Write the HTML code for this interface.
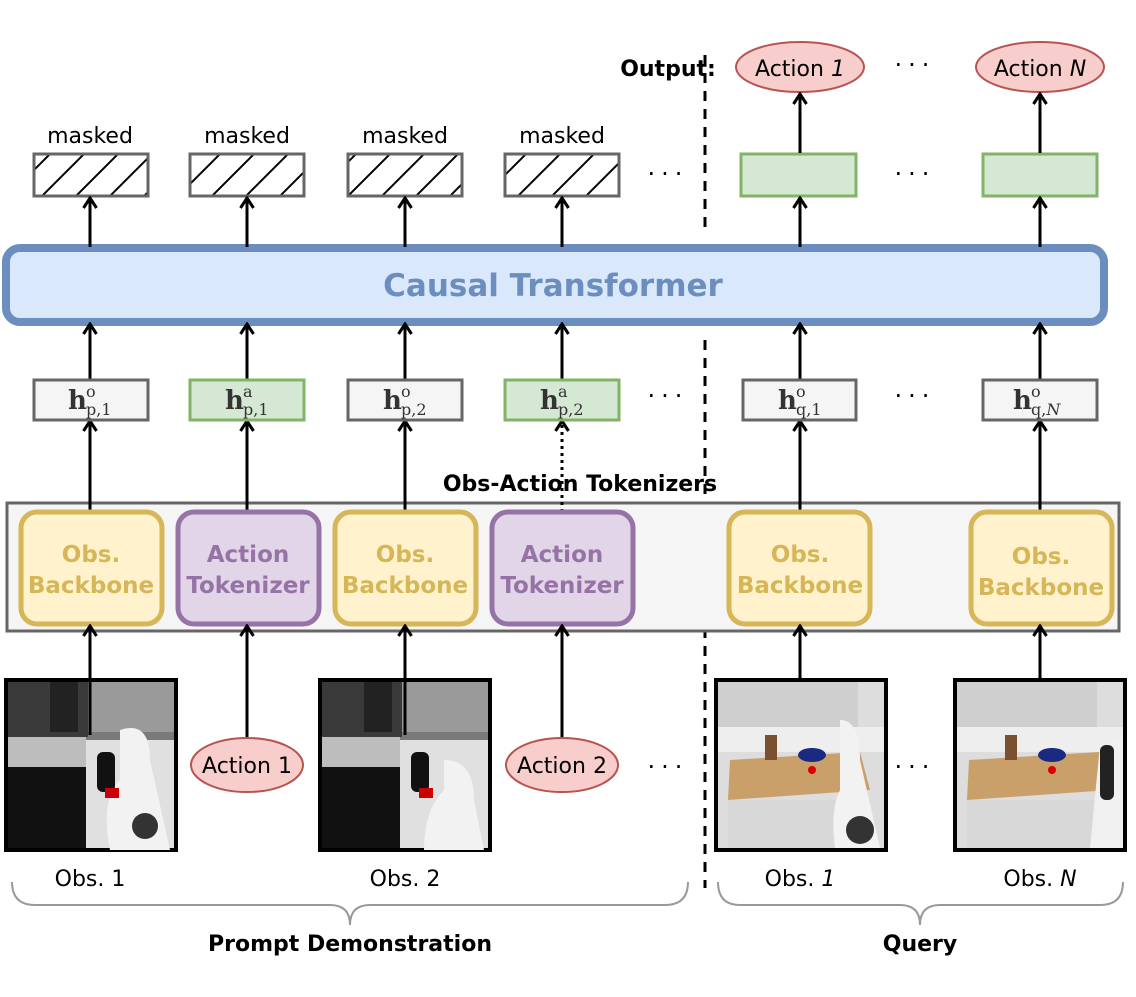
<!DOCTYPE html>
<html><head><meta charset="utf-8"><style>
html,body{margin:0;padding:0;background:#fff;}
svg{display:block;}
text{font-family:"DejaVu Sans","Liberation Sans",sans-serif;}
.m text{font-family:"DejaVu Serif","Liberation Serif",serif;}
</style></head><body>
<svg width="1136" height="997" viewBox="0 0 1136 997" xmlns="http://www.w3.org/2000/svg">
<defs>
<marker id="ar" viewBox="0 0 14 16" refX="12" refY="8" markerWidth="14" markerHeight="16" markerUnits="userSpaceOnUse" orient="auto">
<path d="M2,1.5 L12,8 L2,14.5" fill="none" stroke="#000" stroke-width="3"/>
</marker>
<pattern id="hatch" width="34" height="34" patternUnits="userSpaceOnUse">
<path d="M-5,39 L39,-5 M-22,22 L22,-22 M12,56 L56,12" stroke="#000" stroke-width="2"/>
</pattern>
</defs>

<line x1="705" y1="55" x2="705" y2="232" stroke="#000" stroke-width="3" stroke-dasharray="10,8"/>
<line x1="705" y1="340" x2="705" y2="888" stroke="#000" stroke-width="3" stroke-dasharray="10,8"/>

<text x="668" y="76" font-size="22" font-weight="bold" text-anchor="middle">Output:</text>
<ellipse cx="800" cy="67" rx="64" ry="25" fill="#f8cecc" stroke="#b85450" stroke-width="2"/>
<text x="800" y="76" font-size="22" text-anchor="middle">Action <tspan font-style="italic">1</tspan></text>
<ellipse cx="1040" cy="67" rx="64" ry="25" fill="#f8cecc" stroke="#b85450" stroke-width="2"/>
<text x="1040" y="76" font-size="22" text-anchor="middle">Action <tspan font-style="italic">N</tspan></text>
<text x="915" y="73" font-size="24" text-anchor="middle" letter-spacing="6">···</text>

<g font-size="22" text-anchor="middle">
<text x="90" y="143">masked</text><text x="247" y="143">masked</text>
<text x="405" y="143">masked</text><text x="562" y="143">masked</text>
</g>
<g fill="url(#hatch)" stroke="#666" stroke-width="3">
<rect x="34" y="154" width="114" height="42"/>
<rect x="190" y="154" width="114" height="42"/>
<rect x="348" y="154" width="114" height="42"/>
<rect x="505" y="154" width="114" height="42"/>
</g>
<rect x="741" y="154" width="115" height="42" fill="#d5e8d4" stroke="#82b366" stroke-width="3"/>
<rect x="983" y="154" width="114" height="42" fill="#d5e8d4" stroke="#82b366" stroke-width="3"/>
<g font-size="24" text-anchor="middle" letter-spacing="6">
<text x="668" y="182">···</text><text x="915" y="182">···</text>
<text x="668" y="404">···</text><text x="915" y="404">···</text>
<text x="668" y="575">···</text><text x="915" y="575">···</text>
<text x="668" y="775">···</text><text x="915" y="775">···</text>
</g>

<rect x="6" y="248" width="1098" height="74" rx="14" fill="#dae8fc" stroke="#6c8ebf" stroke-width="8"/>
<text x="553" y="296" font-size="31" font-weight="bold" fill="#6c8ebf" text-anchor="middle">Causal Transformer</text>

<g stroke="#000" stroke-width="3" fill="none" marker-end="url(#ar)">
<line x1="90" y1="247" x2="90" y2="198"/>
<line x1="247" y1="247" x2="247" y2="198"/>
<line x1="405" y1="247" x2="405" y2="198"/>
<line x1="562" y1="247" x2="562" y2="198"/>
<line x1="800" y1="247" x2="800" y2="198"/>
<line x1="1040" y1="247" x2="1040" y2="198"/>
<line x1="800" y1="153" x2="800" y2="94"/>
<line x1="1040" y1="153" x2="1040" y2="94"/>
<line x1="90" y1="379" x2="90" y2="324"/>
<line x1="247" y1="379" x2="247" y2="324"/>
<line x1="405" y1="379" x2="405" y2="324"/>
<line x1="562" y1="379" x2="562" y2="324"/>
<line x1="800" y1="379" x2="800" y2="324"/>
<line x1="1040" y1="379" x2="1040" y2="324"/>
</g>

<text x="580" y="491" font-size="22" font-weight="bold" text-anchor="middle">Obs-Action Tokenizers</text>
<rect x="7" y="503" width="1112" height="128" fill="#f5f5f5" stroke="#666" stroke-width="3"/>

<g stroke="#000" stroke-width="3" fill="none" marker-end="url(#ar)">
<line x1="90" y1="512" x2="90" y2="421"/>
<line x1="247" y1="512" x2="247" y2="421"/>
<line x1="405" y1="512" x2="405" y2="421"/>
<line x1="562" y1="512" x2="562" y2="421" stroke-dasharray="3,4"/>
<line x1="800" y1="512" x2="800" y2="421"/>
<line x1="1040" y1="512" x2="1040" y2="421"/>
</g>

<g stroke-width="3">
<rect x="34" y="380" width="114" height="40" fill="#f5f5f5" stroke="#666"/>
<rect x="190" y="380" width="114" height="40" fill="#d5e8d4" stroke="#82b366"/>
<rect x="348" y="380" width="114" height="40" fill="#f5f5f5" stroke="#666"/>
<rect x="505" y="380" width="114" height="40" fill="#d5e8d4" stroke="#82b366"/>
<rect x="743" y="380" width="113" height="40" fill="#f5f5f5" stroke="#666"/>
<rect x="983" y="380" width="114" height="40" fill="#f5f5f5" stroke="#666"/>
</g>
<g class="m" fill="#333">
<text x="68" y="409" font-size="26" font-weight="bold">h</text><text x="86" y="397" font-size="16">o</text><text x="86" y="415" font-size="16">p,1</text>
<text x="225" y="409" font-size="26" font-weight="bold">h</text><text x="243" y="397" font-size="16">a</text><text x="243" y="415" font-size="16">p,1</text>
<text x="383" y="409" font-size="26" font-weight="bold">h</text><text x="401" y="397" font-size="16">o</text><text x="401" y="415" font-size="16">p,2</text>
<text x="540" y="409" font-size="26" font-weight="bold">h</text><text x="558" y="397" font-size="16">a</text><text x="558" y="415" font-size="16">p,2</text>
<text x="778" y="409" font-size="26" font-weight="bold">h</text><text x="796" y="397" font-size="16">o</text><text x="796" y="415" font-size="16">q,1</text>
<text x="1013" y="409" font-size="26" font-weight="bold">h</text><text x="1031" y="397" font-size="16">o</text><text x="1031" y="415" font-size="16">q,<tspan font-style="italic">N</tspan></text>
</g>

<g stroke-width="5">
<rect x="21" y="512" width="141" height="112" rx="16" fill="#fff2cc" stroke="#d6b656"/>
<rect x="178" y="512" width="141" height="112" rx="16" fill="#e1d5e7" stroke="#9673a6"/>
<rect x="335" y="512" width="141" height="112" rx="16" fill="#fff2cc" stroke="#d6b656"/>
<rect x="492" y="512" width="141" height="112" rx="16" fill="#e1d5e7" stroke="#9673a6"/>
<rect x="729" y="512" width="141" height="112" rx="16" fill="#fff2cc" stroke="#d6b656"/>
<rect x="971" y="512" width="141" height="112" rx="16" fill="#fff2cc" stroke="#d6b656"/>
</g>
<g font-size="23" font-weight="bold" text-anchor="middle">
<text x="91" y="562" fill="#d6b656">Obs.</text><text x="91" y="593" fill="#d6b656">Backbone</text>
<text x="248" y="562" fill="#9673a6">Action</text><text x="248" y="593" fill="#9673a6">Tokenizer</text>
<text x="405" y="562" fill="#d6b656">Obs.</text><text x="405" y="593" fill="#d6b656">Backbone</text>
<text x="562" y="562" fill="#9673a6">Action</text><text x="562" y="593" fill="#9673a6">Tokenizer</text>
<text x="800" y="562" fill="#d6b656">Obs.</text><text x="800" y="593" fill="#d6b656">Backbone</text>
<text x="1041" y="564" fill="#d6b656">Obs.</text><text x="1041" y="595" fill="#d6b656">Backbone</text>
</g>

<g>
<rect x="6" y="680" width="170" height="170" fill="#7a7a7a" stroke="#000" stroke-width="4"/>
<rect x="8" y="682" width="80" height="55" fill="#3a3a3a"/>
<rect x="50" y="682" width="28" height="50" fill="#222"/>
<rect x="88" y="682" width="86" height="50" fill="#9a9a9a"/>
<rect x="8" y="737" width="78" height="30" fill="#bdbdbd"/>
<rect x="8" y="767" width="80" height="81" fill="#111"/>
<rect x="86" y="740" width="88" height="108" fill="#e0e0e0"/>
<path d="M120,730 Q150,720 150,760 L170,850 L110,850 Q100,800 120,780 Z" fill="#f2f2f2"/>
<rect x="97" y="752" width="18" height="40" rx="6" fill="#111"/>
<circle cx="145" cy="826" r="13" fill="#333"/>
<rect x="105" y="788" width="14" height="10" fill="#c00"/>
</g>
<g transform="translate(314,0)">
<rect x="6" y="680" width="170" height="170" fill="#7a7a7a" stroke="#000" stroke-width="4"/>
<rect x="8" y="682" width="80" height="55" fill="#3a3a3a"/>
<rect x="50" y="682" width="28" height="50" fill="#222"/>
<rect x="88" y="682" width="86" height="50" fill="#9a9a9a"/>
<rect x="8" y="737" width="78" height="30" fill="#bdbdbd"/>
<rect x="8" y="767" width="80" height="81" fill="#111"/>
<rect x="86" y="740" width="88" height="108" fill="#e0e0e0"/>
<path d="M130,760 Q160,760 160,800 L170,850 L110,850 Q110,810 130,790 Z" fill="#f2f2f2"/>
<rect x="97" y="752" width="18" height="40" rx="6" fill="#111"/>
<rect x="105" y="788" width="14" height="10" fill="#c00"/>
</g>

<g>
<rect x="716" y="680" width="170" height="170" fill="#ddd" stroke="#000" stroke-width="4"/>
<rect x="718" y="682" width="140" height="45" fill="#cfcfcf"/>
<rect x="718" y="727" width="166" height="25" fill="#eee"/>
<path d="M730,760 L860,752 L870,790 L728,800 Z" fill="#c9a06a"/>
<rect x="728" y="800" width="130" height="48" fill="#d8d8d8"/>
<path d="M840,720 Q860,720 860,760 L880,848 L835,848 Q830,810 840,790 Z" fill="#f2f2f2"/>
<circle cx="860" cy="830" r="14" fill="#333"/>
<ellipse cx="812" cy="755" rx="14" ry="7" fill="#1a2a80"/>
<circle cx="812" cy="770" r="4" fill="#d00"/>
<rect x="765" y="735" width="12" height="25" fill="#7a5030"/>
</g>
<g>
<rect x="955" y="680" width="170" height="170" fill="#ddd" stroke="#000" stroke-width="4"/>
<rect x="957" y="682" width="140" height="45" fill="#cfcfcf"/>
<rect x="957" y="727" width="166" height="25" fill="#eee"/>
<path d="M969,760 L1100,752 L1110,790 L967,800 Z" fill="#c9a06a"/>
<rect x="967" y="800" width="130" height="48" fill="#d8d8d8"/>
<path d="M1100,745 L1123,740 L1123,848 L1090,848 Z" fill="#f0f0f0"/>
<rect x="1100" y="745" width="14" height="55" rx="6" fill="#222"/>
<ellipse cx="1052" cy="755" rx="14" ry="7" fill="#1a2a80"/>
<circle cx="1052" cy="770" r="4" fill="#d00"/>
<rect x="1005" y="735" width="12" height="25" fill="#7a5030"/>
</g>

<ellipse cx="247" cy="765" rx="56" ry="27" fill="#f8cecc" stroke="#b85450" stroke-width="2"/>
<text x="247" y="773" font-size="22" text-anchor="middle">Action 1</text>
<ellipse cx="562" cy="765" rx="56" ry="27" fill="#f8cecc" stroke="#b85450" stroke-width="2"/>
<text x="562" y="773" font-size="22" text-anchor="middle">Action 2</text>

<g stroke="#000" stroke-width="3" fill="none" marker-end="url(#ar)">
<line x1="90" y1="735" x2="90" y2="626"/>
<line x1="247" y1="737" x2="247" y2="626"/>
<line x1="405" y1="735" x2="405" y2="626"/>
<line x1="562" y1="737" x2="562" y2="626"/>
<line x1="800" y1="678" x2="800" y2="626"/>
<line x1="1040" y1="678" x2="1040" y2="626"/>
</g>

<g font-size="22" text-anchor="middle">
<text x="90" y="886">Obs. 1</text>
<text x="405" y="886">Obs. 2</text>
<text x="800" y="886">Obs. <tspan font-style="italic">1</tspan></text>
<text x="1040" y="886">Obs. <tspan font-style="italic">N</tspan></text>
</g>
<g fill="none" stroke="#999" stroke-width="2">
<path d="M12,882 Q12,905 35,905 L330,905 Q350,905 350,925 Q350,905 370,905 L665,905 Q688,905 688,882"/>
<path d="M718,882 Q718,905 740,905 L900,905 Q920,905 920,925 Q920,905 940,905 L1100,905 Q1123,905 1123,882"/>
</g>
<text x="350" y="951" font-size="22" font-weight="bold" text-anchor="middle">Prompt Demonstration</text>
<text x="920" y="951" font-size="22" font-weight="bold" text-anchor="middle">Query</text>
</svg>
</body></html>
